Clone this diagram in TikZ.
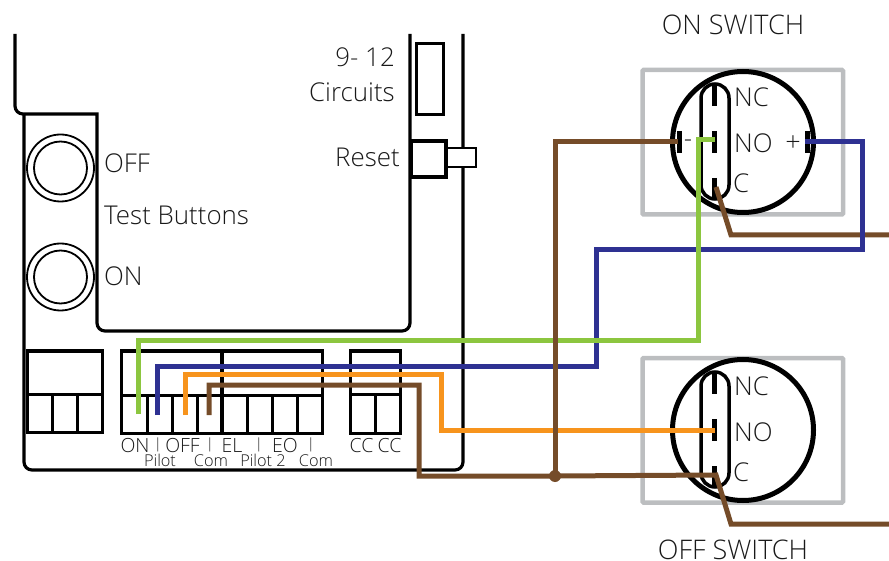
\documentclass[tikz,border=0pt]{standalone}
\usepackage{fontspec}
\setmainfont{Open Sans}[UprightFont=* Light]
\definecolor{wgreen}{HTML}{8CC63F}
\definecolor{wblue}{HTML}{2E3192}
\definecolor{worange}{HTML}{F7941D}
\definecolor{wbrown}{HTML}{754C29}
\definecolor{wgray}{HTML}{BCBEC0}
\tikzset{
  wire/.style={line width=5pt,line join=miter},
  case/.style={draw=black,line width=3.2pt},
  term/.style={draw=black,line width=3pt},
  btn/.style={draw=black,line width=1.8pt,circle,minimum size=#1,inner sep=0pt},
  lab/.style={inner sep=0pt,font=\fontsize{25.9}{25.9}\selectfont,text=black!90},
  big/.style={inner sep=0pt,font=\fontsize{27}{27}\selectfont,text=black!90},
  small/.style={inner sep=0pt,font=\fontsize{19.5}{19.5}\selectfont,text=black!90},
  tiny/.style={inner sep=0pt,font=\fontsize{16.3}{16.3}\selectfont,text=black!90},
  bar/.style={inner sep=0pt,font=\fontsize{14}{14}\selectfont,text=black!90},
  pin/.style={draw=black,line width=5pt},
}
\begin{document}
\begin{tikzpicture}[x=1pt,y=-1pt]
\useasboundingbox (0,0) rectangle (889,561);
% case
\draw[case,rounded corners=8pt] (15,34) -- (15,114) [sharp corners] -- (97,114) -- (97,250) [rounded corners=8pt] -- (97,331) -- (410,331) -- (410,34);
\draw[case,rounded corners=8pt] (24,114) -- (24,470) -- (463,470) -- (463,34);
\draw[term] (416,44) rectangle (443,115);
\node[draw=black,line width=2.5pt,fill=white,minimum width=29pt,minimum height=19pt,inner sep=0pt] (tab) at (461.5,157.5) {};
\node[draw=black,line width=3.5pt,fill=white,minimum width=35pt,minimum height=36pt,inner sep=0pt] (resetbox) at (428.5,159) {};
\node[btn=67pt] (offo) at (60.5,168) {};
\node[btn=53pt] (offi) at (60.5,168) {};
\node[btn=67pt] (ono) at (60.5,277) {};
\node[btn=53pt] (oni) at (60.5,277) {};
% text
\node[lab,anchor=base east] (t1) at (395,67) {9- 12};
\node[lab,anchor=base east] (t2) at (395,102) {Circuits};
\node[lab,anchor=base east] (t3) at (400,166.5) {Reset};
\node[lab,anchor=base west] (t4) at (104,172.5) {OFF};
\node[lab,anchor=base west] (t5) at (104,224.5) {Test Buttons};
\node[lab,anchor=base west] (t6) at (104,285.5) {ON};
\node[big,anchor=base] (t7) at (733,35) {ON SWITCH};
\node[big,anchor=base] (t8) at (733,559) {OFF SWITCH};
% terminal blocks
\draw[term] (27,351) rectangle (102.5,432);
\draw[term] (27,394) -- (102.5,394) (52,394) -- (52,432) (77,394) -- (77,432);
\draw[term] (121,351) rectangle (322.5,433);
\draw[term] (121,395) -- (322.5,395) (147,395) -- (147,433) (172,395) -- (172,433) (197,395) -- (197,433)
  (247.5,395) -- (247.5,433) (272.5,395) -- (272.5,433) (297,395) -- (297,433);
\draw[draw=black,line width=3.5pt] (222,351) -- (222,433);
\draw[term] (350,351) rectangle (400,433);
\draw[term] (350,394) -- (400,394) (375,394) -- (375,433);
\foreach \x/\s/\n in {135/ON/a,182.5/OFF/c,232/EL/e,285/EO/g,361.5/CC/i,389.5/CC/j}
  \node[small,anchor=base] (bl\n) at (\x,452.5) {\s};
\foreach \x/\n in {158/b,210/d,259/f,311/h}
  \node[bar,anchor=base] (br\n) at (\x,452) {\raisebox{3.5pt}{|}};
\foreach \x/\s/\n in {160/Pilot/a,211/Com/b,263/Pilot 2/c,316/Com/d}
  \node[tiny,anchor=base] (sl\n) at (\x,466) {\s};
% switches
\foreach \cy/\sw in {142/a,430/b}{
  \draw[wgray,line width=4.5pt,rounded corners=1pt] (642.5,\cy-72) rectangle (843,\cy+72.5);
  \node[draw=black,line width=5pt,circle,minimum size=141pt,inner sep=0pt] (circ\sw) at (743,\cy) {};
  \draw[draw=black,line width=3.5pt,rounded corners=14pt] (701,\cy-58) rectangle (729,\cy+57);
  \coordinate (nc\sw) at (714.5,\cy-47);
  \coordinate (no\sw) at (714.5,\cy);
  \coordinate (c\sw) at (714.5,\cy+46);
  \draw[pin] (714.5,\cy-58) -- (714.5,\cy-36);
  \draw[pin] (714.5,\cy-11) -- (714.5,\cy+11);
  \draw[pin] (714.5,\cy+36) -- (714.5,\cy+57);
  \node[lab,anchor=base west] (nclab\sw) at (734,\cy-35) {NC};
  \node[lab,anchor=base west] (nolab\sw) at (734,\cy+11) {NO};
  \node[lab,anchor=base west] (clab\sw) at (733,\cy+51) {C};
}
\draw[pin] (679,131) -- (679,153);
\draw[pin] (807,131) -- (807,153);
\node[lab,anchor=base,text=black] (minus) at (688,148) {-};
\node[big,anchor=base] (plus) at (793,152) {+};
% wires
\coordinate (gs) at (138,414);
\coordinate (bs) at (157,415);
\coordinate (os) at (185,415);
\coordinate (brs) at (209,415);
\coordinate (gnd) at (715,140);
\coordinate (blu) at (805,142);
\coordinate (ono2) at (715,430);
\coordinate (cb) at (716,475);
\coordinate (ct) at (716,187);
\coordinate (neg) at (678,142);
\coordinate (jn) at (555,476);
\draw[wire,wbrown] (ct) -- (731,235) -- (889,235);
\draw[wire,worange] (os) -- (185,374) -- (441,374) -- (441,430) -- (ono2);
\draw[wire,wblue] (bs) -- (157,366) -- (596,366) -- (596,250) -- (862,250) -- (862,142) -- (blu);
\draw[wire,wgreen] (gs) -- (138,341) -- (698,341) -- (698,140) -- (gnd);
\draw[wire,wbrown] (brs) -- (209,385) -- (419,385) -- (419,476) -- (jn) -- (cb) -- (731,524) -- (889,524);
\draw[wire,wbrown] (jn) -- (555,142) -- (neg);
\fill[wbrown] (jn) circle (6pt);
\end{tikzpicture}
\end{document}
